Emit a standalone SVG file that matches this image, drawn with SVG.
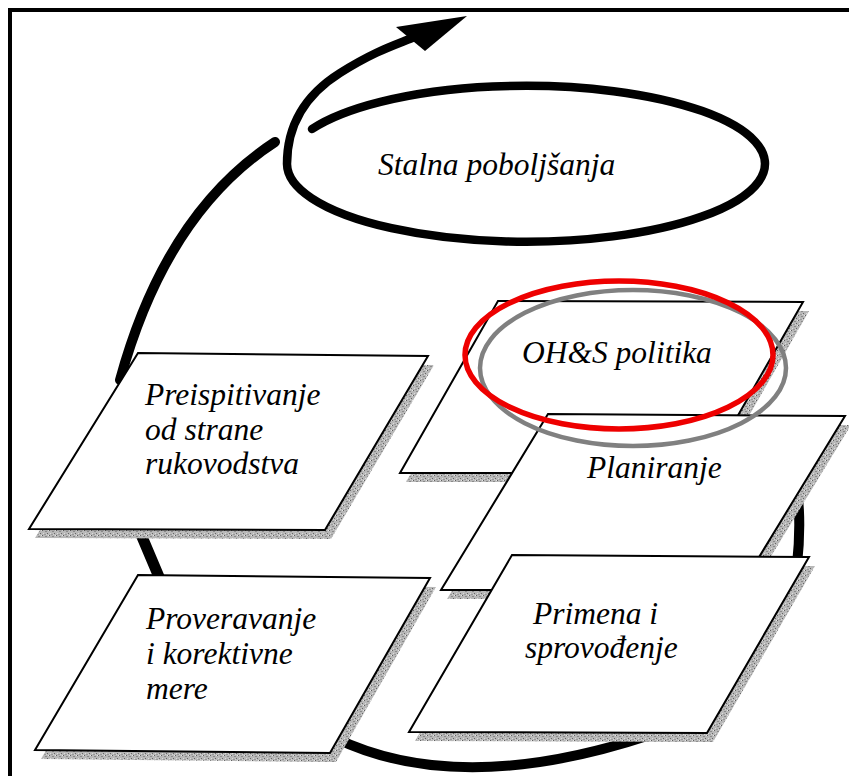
<svg xmlns="http://www.w3.org/2000/svg" width="849" height="776" viewBox="0 0 849 776">
  <defs>
    <!-- stippled grey used for the drop shadows of the cards -->
    <pattern id="grain" width="7" height="5" patternUnits="userSpaceOnUse">
      <rect width="7" height="5" fill="#b8b8b8"/>
      <rect x="0" y="0" width="1" height="1" fill="#5e5e5e"/>
      <rect x="3" y="1" width="2" height="1" fill="#8a8a8a"/>
      <rect x="5" y="3" width="1" height="1" fill="#666"/>
      <rect x="1" y="3" width="1" height="1" fill="#dcdcdc"/>
      <rect x="2" y="4" width="2" height="1" fill="#999"/>
      <rect x="6" y="0" width="1" height="1" fill="#e6e6e6"/>
      <rect x="4" y="4" width="1" height="1" fill="#d4d4d4"/>
    </pattern>
  </defs>
  <style>
    .box{fill:#fff;stroke:#000;stroke-width:2;stroke-linejoin:miter}
    .shade{fill:url(#grain)}
    .lbl{font-family:"Liberation Serif","Times New Roman",serif;font-style:italic;font-size:31.5px;fill:#000}
    .loop{fill:none;stroke:#000;stroke-linecap:round}
  </style>

  <rect width="849" height="776" fill="#fff"/>

  <!-- frame -->
  <g id="frame" fill="none" stroke="#000" stroke-width="4">
    <path d="M10,776 V10 H849"/>
  </g>

  <!-- cycle and improvement spiral -->
  <g id="connectors">
    <!-- lower rising part of the spiral -->
    <path class="loop" stroke-width="10" d="M120,380 C146,285 192,196 275,142"/>
    <!-- ellipse turning into the upward arrow -->
    <path class="loop" stroke-width="8.5" d="M312,129 A239,78 0 1 1 287,164 C287,125 305,95 340,73 S395,45 412,38"/>
    <polygon points="396,27 467,16 425,51" fill="#000"/>
    <!-- big loop around the cards -->
    <path class="loop" stroke-width="11" d="M140,532 L162,584"/>
    <path class="loop" stroke-width="10" d="M335,738 Q460,798 650,735"/>
    <path class="loop" stroke-width="10" d="M796,480 Q802,520 797,565"/>
  </g>

  <g id="node-preispitivanje">
    <polygon class="shade" points="144,362 434,365 331,539 35,538"/>
    <polygon class="box" points="138,353 428,356 325,530 29,529"/>
    <text class="lbl" x="145" y="405">Preispitivanje</text>
    <text class="lbl" x="145" y="440">od strane</text>
    <text class="lbl" x="145" y="474">rukovodstva</text>
  </g>

  <g id="node-politika">
    <polygon class="shade" points="504,310 809,311 711,482 406,482"/>
    <polygon class="box" points="498,301 803,302 705,473 400,473"/>
    <text class="lbl" x="522" y="363">OH&amp;S politika</text>
  </g>

  <g id="node-planiranje">
    <polygon class="shade" points="554,423 851,425 745,599 447,599"/>
    <polygon class="box" points="548,414 845,416 739,590 441,590"/>
    <text class="lbl" x="587" y="478">Planiranje</text>
  </g>

  <g id="node-primena">
    <polygon class="shade" points="518,564 815,566 713,742 415,741"/>
    <polygon class="box" points="512,555 809,557 707,733 409,732"/>
    <text class="lbl" x="533" y="624">Primena i</text>
    <text class="lbl" x="525" y="658">sprovođenje</text>
  </g>

  <g id="node-proveravanje">
    <polygon class="shade" points="144,584 436,587 336,762 41,759"/>
    <polygon class="box" points="138,575 430,578 330,753 35,750"/>
    <text class="lbl" x="146" y="629">Proveravanje</text>
    <text class="lbl" x="146" y="664">i korektivne</text>
    <text class="lbl" x="146" y="699">mere</text>
  </g>

  <g id="node-stalna">
    <text class="lbl" x="378" y="175" font-size="34">Stalna poboljšanja</text>
  </g>

  <!-- highlight rings around the policy card -->
  <g id="highlight" fill="none">
    <ellipse cx="633" cy="368" rx="153" ry="78" stroke="#808080" stroke-width="4.5"/>
    <ellipse cx="619" cy="355" rx="154" ry="74" stroke="#ee0000" stroke-width="5.5"/>
  </g>
</svg>
